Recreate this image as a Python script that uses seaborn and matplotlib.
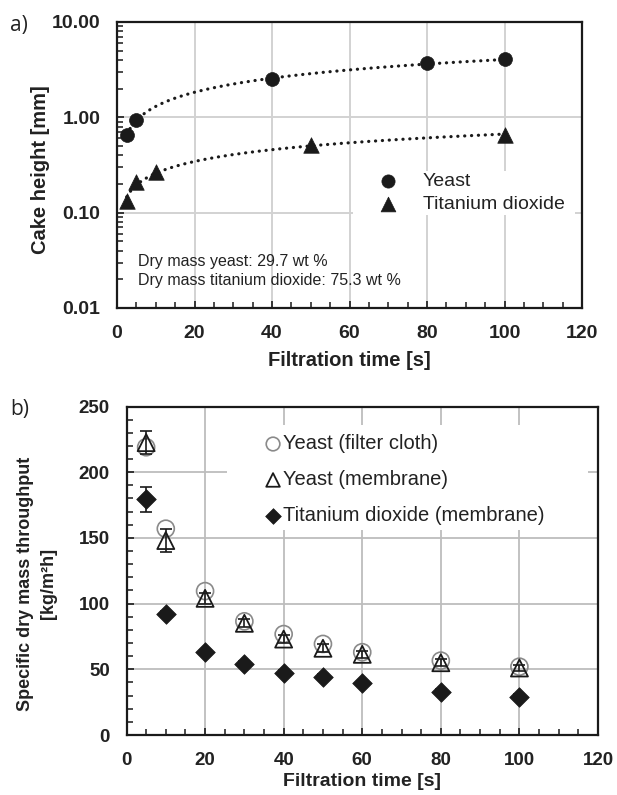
import numpy as np
import pandas as pd
import matplotlib
matplotlib.use("Agg")
import matplotlib.pyplot as plt
from matplotlib.patches import Rectangle
from matplotlib.ticker import MultipleLocator, FixedLocator, FuncFormatter, LogLocator, NullFormatter
import seaborn as sns

# ---------------- data ----------------
# panel a) cake height
yeast_t = [2.5, 5, 40, 80, 100]
yeast_h = [0.66, 0.93, 2.52, 3.68, 4.05]
tio2_t = [2.5, 5, 10, 50, 100]
tio2_h = [0.134, 0.212, 0.266, 0.507, 0.645]

# panel b) specific dry mass throughput
time_b = [5, 10, 20, 30, 40, 50, 60, 80, 100]
yeast_cloth = [219, 157, 109.5, 86.5, 76.8, 69.3, 63, 56.6, 52]
yeast_membrane = [222.5, 148, 104, 85, 73, 66, 61.4, 55, 51]
yeast_membrane_err = [9, 9, 4, 3, 3, 3, 2.5, 2.5, 2.5]
tio2_membrane = [179.5, 92, 63, 54, 47.4, 44.4, 39.3, 33, 29.2]
tio2_membrane_err = [9.5, 2, 2, 2, 2, 2, 2, 2, 2]

W, H = 617, 795
sns.set_theme(style="white")
plt.rcParams['font.family'] = ['Liberation Sans', 'DejaVu Sans']
plt.rcParams['axes.unicode_minus'] = False

fig = plt.figure(figsize=(W / 100, H / 100), dpi=100)

def px_axes(left, top, right, bottom):
    return fig.add_axes([left / W, 1 - bottom / H, (right - left) / W, (bottom - top) / H])

def px_box(ax, l, t, r, b, x0, x1, y0, y1):
    # white legend background given in figure pixels -> axes fraction
    fx = lambda p: (p - x0) / (x1 - x0)
    fy = lambda p: (y1 - p) / (y1 - y0)
    ax.add_patch(Rectangle((fx(l), fy(b)), fx(r) - fx(l), fy(t) - fy(b),
                           transform=ax.transAxes, facecolor="white",
                           edgecolor="none", zorder=1.5))

txt = "#222222"
dark = "#1a1a1a"

# ---------------- panel a ----------------
A_L, A_T, A_R, A_B = 117, 22, 582, 308
ax1 = px_axes(A_L, A_T, A_R, A_B)
ax1.set_yscale("log")
ax1.set_xlim(0, 120)
ax1.set_ylim(0.01, 10)

for t, h in [(yeast_t, yeast_h), (tio2_t, tio2_h)]:
    b, a = np.polyfit(np.log(t), np.log(h), 1)
    tt = np.linspace(min(t), max(t), 300)
    fit = pd.DataFrame({"t": tt, "h": np.exp(a) * tt ** b})
    sns.lineplot(data=fit, x="t", y="h", ax=ax1, color=dark,
                 linestyle=(0, (0.05, 2.1)), linewidth=2.3,
                 dash_capstyle="round", zorder=3, legend=False)

dfa_y = pd.DataFrame({"t": yeast_t, "h": yeast_h})
dfa_t = pd.DataFrame({"t": tio2_t, "h": tio2_h})
sns.scatterplot(data=dfa_y, x="t", y="h", ax=ax1, marker="o", s=100,
                color=dark, edgecolor=dark, linewidth=0.5,
                zorder=4, label="Yeast")
sns.scatterplot(data=dfa_t, x="t", y="h", ax=ax1, marker="^", s=125,
                color=dark, edgecolor=dark, linewidth=0.5,
                zorder=4, label="Titanium dioxide")

ax1.xaxis.set_major_locator(MultipleLocator(20))
ax1.xaxis.set_minor_locator(MultipleLocator(5))
ax1.yaxis.set_major_locator(FixedLocator([0.01, 0.1, 1, 10]))
ax1.yaxis.set_major_formatter(FuncFormatter(lambda v, p: f"{v:.2f}"))
ax1.yaxis.set_minor_locator(LogLocator(base=10, subs=np.arange(2, 10)))
ax1.yaxis.set_minor_formatter(NullFormatter())
ax1.grid(True, which="major", color="#d2d2d2", linewidth=1.4, zorder=0)
ax1.set_axisbelow(True)

ax1.set_xlabel("Filtration time [s]", fontsize=14.5, fontweight="bold", labelpad=7)
ax1.set_ylabel("Cake height [mm]", fontsize=14.5, fontweight="bold")
ax1.yaxis.set_label_coords((50 - A_L) / (A_R - A_L), (A_B - 169.5) / (A_B - A_T))

px_box(ax1, 353, 171, 575, 215, A_L, A_R, A_T, A_B)
leg1 = ax1.legend(loc="upper left",
                  bbox_to_anchor=((378.3 - A_L) / (A_R - A_L), (A_B - 172.8) / (A_B - A_T)),
                  frameon=False, fontsize=14, handlelength=1.0, handletextpad=1.3,
                  labelspacing=0.25, borderpad=0, markerscale=0.95, borderaxespad=0)
for t_ in leg1.get_texts():
    t_.set_color(txt)

ax1.text(0.045, 0.162, "Dry mass yeast: 29.7 wt %", transform=ax1.transAxes,
         fontsize=11.5, va="center", ha="left", color=txt)
ax1.text(0.045, 0.095, "Dry mass titanium dioxide: 75.3 wt %", transform=ax1.transAxes,
         fontsize=11.5, va="center", ha="left", color=txt)

# ---------------- panel b ----------------
B_L, B_T, B_R, B_B = 126.5, 406.5, 598, 735
ax2 = px_axes(B_L, B_T, B_R, B_B)
ax2.set_xlim(0, 120)
ax2.set_ylim(0, 250)

dfb = pd.DataFrame({"t": time_b, "cloth": yeast_cloth, "mem": yeast_membrane,
                    "tio2": tio2_membrane})

sns.scatterplot(data=dfb, x="t", y="cloth", ax=ax2, marker="o", s=150,
                facecolor="none", edgecolor="#8a8a8a", linewidth=1.2,
                zorder=3, label="Yeast (filter cloth)")
ax2.errorbar(time_b, yeast_membrane, yerr=yeast_membrane_err, fmt="none",
             ecolor=dark, elinewidth=1.2, capsize=4, capthick=1.2, zorder=4)
sns.scatterplot(data=dfb, x="t", y="mem", ax=ax2, marker="^", s=150,
                facecolor="none", edgecolor=dark, linewidth=1.3,
                zorder=5, label="Yeast (membrane)")
ax2.errorbar(time_b, tio2_membrane, yerr=tio2_membrane_err, fmt="none",
             ecolor=dark, elinewidth=1.2, capsize=4, capthick=1.2, zorder=4)
sns.scatterplot(data=dfb, x="t", y="tio2", ax=ax2, marker="D", s=100,
                color=dark, edgecolor=dark, linewidth=0.5,
                zorder=5, label="Titanium dioxide (membrane)")

ax2.xaxis.set_major_locator(MultipleLocator(20))
ax2.xaxis.set_minor_locator(MultipleLocator(5))
ax2.yaxis.set_major_locator(MultipleLocator(50))
ax2.yaxis.set_minor_locator(MultipleLocator(10))
ax2.grid(True, which="major", color="#bdbdbd", linewidth=1.3, zorder=0)
ax2.set_axisbelow(True)

ax2.set_xlabel("Filtration time [s]", fontsize=14, fontweight="bold", labelpad=3)
ax2.set_ylabel("Specific dry mass throughput\n[kg/m²h]", fontsize=13,
               fontweight="bold", linespacing=1.45)
ax2.yaxis.set_label_coords((57 - B_L) / (B_R - B_L), 0.46)

px_box(ax2, 227, 425, 588, 530, B_L, B_R, B_T, B_B)
leg2 = ax2.legend(loc="upper left",
                  bbox_to_anchor=((268 - B_L) / (B_R - B_L), (B_B - 434.3) / (B_B - B_T)),
                  frameon=False, fontsize=14.5, handletextpad=0.23, handlelength=0.5,
                  labelspacing=0.84, borderpad=0, markerscale=0.8,
                  borderaxespad=0)
for t_ in leg2.get_texts():
    t_.set_color(txt)

for ax, tfs in ((ax1, 14), (ax2, 13.5)):
    for sp in ax.spines.values():
        sp.set_color(dark)
        sp.set_linewidth(1.6)
    ax.tick_params(which="both", direction="in", color=dark)
    ax.tick_params(which="major", length=5, width=1.2, labelsize=tfs, pad=12)
    ax.tick_params(which="minor", length=4, width=1.1)
    ax.tick_params(axis="x", which="both", top=False, bottom=True)
    ax.tick_params(axis="y", which="both", left=True, right=False)
    for lab in ax.get_xticklabels() + ax.get_yticklabels():
        lab.set_fontweight("bold")
        lab.set_color(txt)
    ax.xaxis.label.set_color(txt)
    ax.yaxis.label.set_color(txt)

fig.text(10 / W, 1 - 25 / H, "a)", fontsize=15, va="center", ha="left",
         family=["Open Sans", "DejaVu Sans"], color=txt)
fig.text(10 / W, 1 - 410 / H, "b)", fontsize=15, va="center", ha="left",
         family=["Open Sans", "DejaVu Sans"], color=txt)

fig.savefig("out.png", dpi=100, facecolor="white")
